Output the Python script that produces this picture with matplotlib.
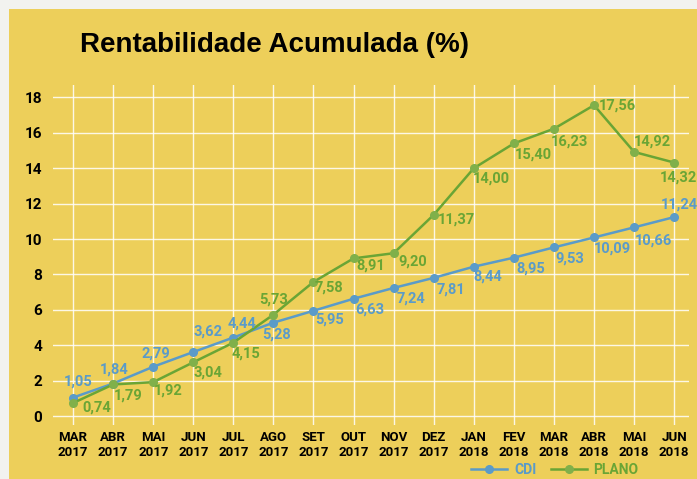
import matplotlib.pyplot as plt
from matplotlib.patches import Rectangle

# data
months = ["MAR\n2017", "ABR\n2017", "MAI\n2017", "JUN\n2017", "JUL\n2017", "AGO\n2017",
          "SET\n2017", "OUT\n2017", "NOV\n2017", "DEZ\n2017", "JAN\n2018", "FEV\n2018",
          "MAR\n2018", "ABR\n2018", "MAI\n2018", "JUN\n2018"]
cdi = [1.05, 1.84, 2.79, 3.62, 4.44, 5.28, 5.95, 6.63, 7.24, 7.81, 8.44, 8.95,
       9.53, 10.09, 10.66, 11.24]
plano = [0.74, 1.79, 1.92, 3.04, 4.15, 5.73, 7.58, 8.91, 9.20, 11.37, 14.00, 15.40,
         16.23, 17.56, 14.92, 14.32]
yticks = [0, 2, 4, 6, 8, 10, 12, 14, 16, 18]

# label offsets in pixels (dx, dy)
cdi_off = [(5, 16), (1, 14), (3, 13), (15, 20), (9, 14), (3, -12), (16, -9), (16, -11),
           (17, -11), (17, -12), (14, -10), (17, -11), (16, -11), (18, -11), (19, -13), (5, 13)]
plano_off = [(24, -5), (15, -11), (15, -8), (15, -10), (13, -11), (0, 15), (16, -6), (17, -7),
             (19, -8), (23, -5), (18, -10), (20, -11), (16, -13), (23, 0), (18, 10), (4, -15)]

BG = "#EDCF5A"
BLUE = "#5A9BC9"
GREEN = "#6AA535"
GREEN_PT = "#80B04A"
FONT = ["Roboto", "DejaVu Sans"]

fig = plt.figure(figsize=(6.97, 4.79), dpi=100)
fig.patch.set_facecolor("#F2F2EF")
fig.patches.append(Rectangle((9 / 697, 0), 1, 1 - 9 / 479, transform=fig.transFigure,
                             facecolor=BG, edgecolor="none", zorder=-1))

ax = fig.add_axes([53 / 697, 1 - 425 / 479, (689 - 53) / 697, (425 - 85) / 479])
ax.set_facecolor(BG)
x = list(range(len(months)))

ax.plot(x, cdi, color=BLUE, lw=1.8, marker="o", ms=5.5, mfc=BLUE, mec=BLUE, label="CDI", zorder=3)
ax.plot(x, plano, color=GREEN, lw=1.8, marker="o", ms=5.5, mfc=GREEN_PT, mec=GREEN_PT,
        label="PLANO", zorder=3)

for xi, v, off in zip(x, cdi, cdi_off):
    ax.annotate(f"{v:.2f}".replace(".", ","), (xi, v), xytext=off, textcoords="offset pixels",
                ha="center", va="center", color=BLUE, fontsize=10.5, fontweight="bold",
                family=FONT, zorder=4, annotation_clip=False)
for xi, v, off in zip(x, plano, plano_off):
    ax.annotate(f"{v:.2f}".replace(".", ","), (xi, v), xytext=off, textcoords="offset pixels",
                ha="center", va="center", color=GREEN, fontsize=10.5, fontweight="bold",
                family=FONT, zorder=4, annotation_clip=False)

ax.set_xlim(-0.5, 15.37)
ax.set_ylim(-0.5, 18.7)
ax.set_xticks(x)
ax.set_xticklabels(months, family=FONT, fontsize=9.5, fontweight="bold", linespacing=1.25)
ax.set_yticks(yticks)
ax.set_yticklabels([str(t) for t in yticks], family=FONT, fontsize=11, fontweight="bold")
ax.tick_params(length=0)
ax.tick_params(axis="x", pad=4)
ax.tick_params(axis="y", pad=8)
for s in ax.spines.values():
    s.set_visible(False)

ax.grid(True, color="white", lw=1, alpha=0.85)
ax.set_axisbelow(True)

fig.text(80 / 697, 1 - 45 / 479, "Rentabilidade Acumulada (%)", fontsize=20, fontweight="bold",
         family=["Liberation Sans", "DejaVu Sans"], va="center", ha="left")

leg = fig.legend(loc="center", bbox_to_anchor=(555 / 697, 1 - 470 / 479), ncol=2, frameon=False,
                 prop={"family": FONT, "weight": "bold", "size": 10}, handlelength=2.6,
                 columnspacing=1.0, handletextpad=0.5, borderpad=0.1)
for txt, c in zip(leg.get_texts(), [BLUE, GREEN]):
    txt.set_color(c)

plt.savefig("out.png", dpi=100, facecolor=fig.get_facecolor())
